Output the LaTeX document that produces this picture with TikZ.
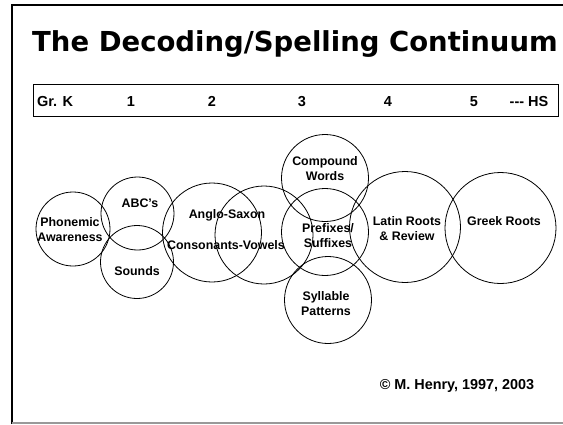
\documentclass[tikz,border=0pt]{standalone}
\usepackage{fontspec}
\setmainfont{Liberation Sans}
\newfontfamily\fuenteTitulo{DejaVu Sans}
\usepackage{tikz}

\begin{document}
\begin{tikzpicture}[x=1pt,y=-1pt]
    \tikzset{burbuja/.style = {shape=circle,draw,line width=0.8pt,inner sep=0pt}}
    \tikzset{rotulo/.style = {align=center,inner sep=0pt,font=\bfseries\fontsize{12.4}{15}\selectfont}}
    \tikzset{grado/.style = {anchor=base,inner sep=0pt,font=\bfseries\fontsize{14.5}{16}\selectfont}}

    \useasboundingbox (0,0) rectangle (563,424);

    % marco de la diapositiva
    \draw[line width=2pt] (12,424) -- (12,5) -- (563,5);
    \draw[gray!80,line width=1.5pt] (12,423) -- (563,423);

    \node[inner sep=0pt,font=\fuenteTitulo\bfseries\fontsize{27.5}{30}\selectfont] (titulo) at (295,44) {The Decoding/Spelling Continuum};

    % escala de grados
    \node[draw,line width=0.8pt,minimum width=525pt,minimum height=32pt,inner sep=0pt] (escala) at (295.5,100) {};
    \node[grado] (gradoK) at (55,106) {Gr. K};
    \node[grado] (grado1) at (131,106) {1};
    \node[grado] (grado2) at (212,106) {2};
    \node[grado] (grado3) at (302,106) {3};
    \node[grado] (grado4) at (388,106) {4};
    \node[grado] (grado5) at (474,106) {5};
    \node[grado] (gradoHS) at (529,106) {-{}-{}- HS};

    % circulos
    \node[burbuja,minimum size=74pt] (cPhonemic) at (73,229) {};
    \node[burbuja,minimum size=73pt] (cABC) at (137.5,213.5) {};
    \node[burbuja,minimum size=73pt] (cSounds) at (137,262) {};
    \node[burbuja,minimum size=99pt] (cAnglo) at (212,232.5) {};
    \node[burbuja,minimum size=98pt] (cConsonants) at (264,235) {};
    \node[burbuja,minimum size=87pt] (cCompound) at (325,178) {};
    \node[burbuja,minimum size=87pt] (cPrefixes) at (325,232) {};
    \node[burbuja,minimum size=87pt] (cSyllable) at (328,300) {};
    \node[burbuja,minimum size=111pt] (cLatin) at (405,227) {};
    \node[burbuja,minimum size=111pt] (cGreek) at (500.5,228) {};

    % textos
    \node[rotulo] (tPhonemic) at (70,229.5) {Phonemic\\Awareness};
    \node[rotulo] (tABC) at (140,203) {ABC's};
    \node[rotulo] (tSounds) at (137,271) {Sounds};
    \node[rotulo] (tAnglo) at (227,215) {Anglo-Saxon};
    \node[rotulo] (tConsonants) at (226,245) {Consonants-Vowels};
    \node[rotulo] (tCompound) at (325,169) {Compound\\Words};
    \node[rotulo] (tPrefixes) at (328,235.5) {Prefixes/\\Suffixes};
    \node[rotulo] (tSyllable) at (326,304) {Syllable\\Patterns};
    \node[rotulo] (tLatin) at (407,228.5) {Latin Roots\\\& Review};
    \node[rotulo] (tGreek) at (504,221) {Greek Roots};

    \node[grado,anchor=center,font=\bfseries\fontsize{14.4}{16}\selectfont] (autor) at (457,386) {\textcopyright{} M. Henry, 1997, 2003};
\end{tikzpicture}
\end{document}
